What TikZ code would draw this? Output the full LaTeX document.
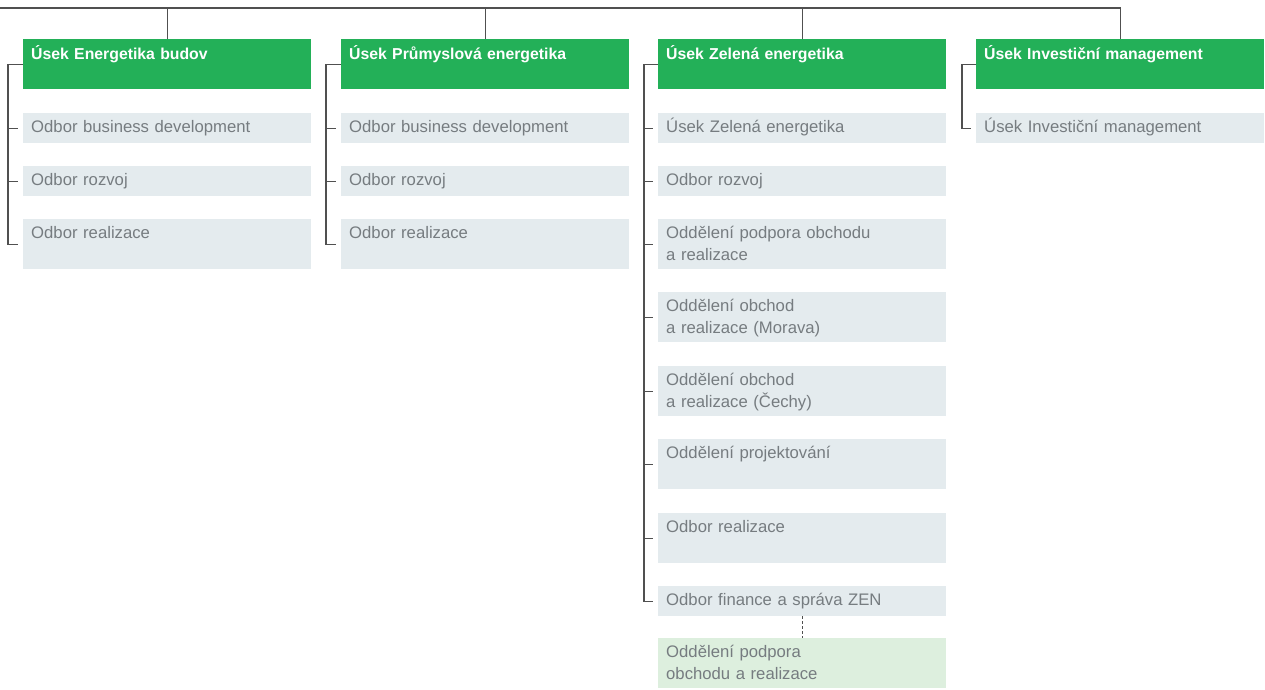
\documentclass[tikz,border=0pt]{standalone}
\usepackage{fontspec}
\setmainfont{Liberation Sans}
\definecolor{usekgreen}{RGB}{35,176,88}
\definecolor{boxgray}{RGB}{228,235,238}
\definecolor{paleGreen}{RGB}{221,239,222}
\definecolor{textgray}{RGB}{118,124,128}
\definecolor{linegray}{RGB}{80,80,80}
\tikzset{
  usek/.style={fill=usekgreen, text=white, anchor=north west, align=left,
    font=\bfseries\fontsize{15.8}{22}\selectfont,
    text width=272pt, inner xsep=8pt, inner ysep=0pt,
    text height=20pt, text depth=30pt},
  odbor/.style={fill=boxgray, text=textgray, anchor=north west, align=left,
    font=\fontsize{16.7}{22}\selectfont,
    text width=272pt, inner xsep=8pt, inner ysep=0pt,
    text height=19pt, text depth=11pt},
  tall/.style={text depth=31pt},
  wire/.style={draw=linegray, line width=1.2pt}
}
\begin{document}
\begin{tikzpicture}[x = 1pt, y = -1pt]
\useasboundingbox (0, 0) rectangle (1265, 689);
% units
\node[usek] (u1) at (23, 39) {Úsek Energetika budov};
\node[usek] (u2) at (341, 39) {Úsek Průmyslová energetika};
\node[usek] (u3) at (658, 39) {Úsek Zelená energetika};
\node[usek] (u4) at (976, 39) {Úsek Investiční management};
% column 1
\node[odbor] (o11) at (23, 113) {Odbor business development};
\node[odbor] (o12) at (23, 166) {Odbor rozvoj};
\node[odbor, tall] (o13) at (23, 219) {Odbor realizace};
% column 2
\node[odbor] (o21) at (341, 113) {Odbor business development};
\node[odbor] (o22) at (341, 166) {Odbor rozvoj};
\node[odbor, tall] (o23) at (341, 219) {Odbor realizace};
% column 3
\node[odbor] (o31) at (658, 113) {Úsek Zelená energetika};
\node[odbor] (o32) at (658, 166) {Odbor rozvoj};
\node[odbor, tall] (o33) at (658, 219) {Oddělení podpora obchodu\\a realizace};
\node[odbor, tall] (o34) at (658, 292) {Oddělení obchod\\a realizace (Morava)};
\node[odbor, tall] (o35) at (658, 366) {Oddělení obchod\\a realizace (Čechy)};
\node[odbor, tall] (o36) at (658, 439) {Oddělení projektování};
\node[odbor, tall] (o37) at (658, 513) {Odbor realizace};
\node[odbor] (o38) at (658, 586) {Odbor finance a správa ZEN};
\node[odbor, tall, fill=paleGreen] (o39) at (658, 638) {Oddělení podpora\\obchodu a realizace};
% column 4
\node[odbor] (o41) at (976, 113) {Úsek Investiční management};

% top line
\coordinate (top) at (0, 8);
\draw[wire] (top) -| (u4.north);
\foreach \u in {u1, u2, u3}
  \draw[wire] (\u.north) -- (\u.north |- top);

% brackets
\draw[wire] (u1.west) -- ++(-15, 0) |- ([xshift=-5pt]o13.west);
\draw[wire] (u2.west) -- ++(-15, 0) |- ([xshift=-5pt]o23.west);
\draw[wire] (u3.west) -- ++(-14, 0) |- ([xshift=-5pt]o38.west);
\draw[wire] (u4.west) -- ++(-14, 0) |- ([xshift=-5pt]o41.west);
\foreach \o in {o11, o12, o21, o22}
  \draw[wire] ([xshift=-15pt]\o.west) -- ([xshift=-5pt]\o.west);
\foreach \o in {o31, o32, o33, o34, o35, o36, o37}
  \draw[wire] ([xshift=-14pt]\o.west) -- ([xshift=-5pt]\o.west);

% dotted link
\draw[wire, line width=1pt, dash pattern=on 3pt off 2pt] (o38.south) -- (o39.north);
\end{tikzpicture}
\end{document}
